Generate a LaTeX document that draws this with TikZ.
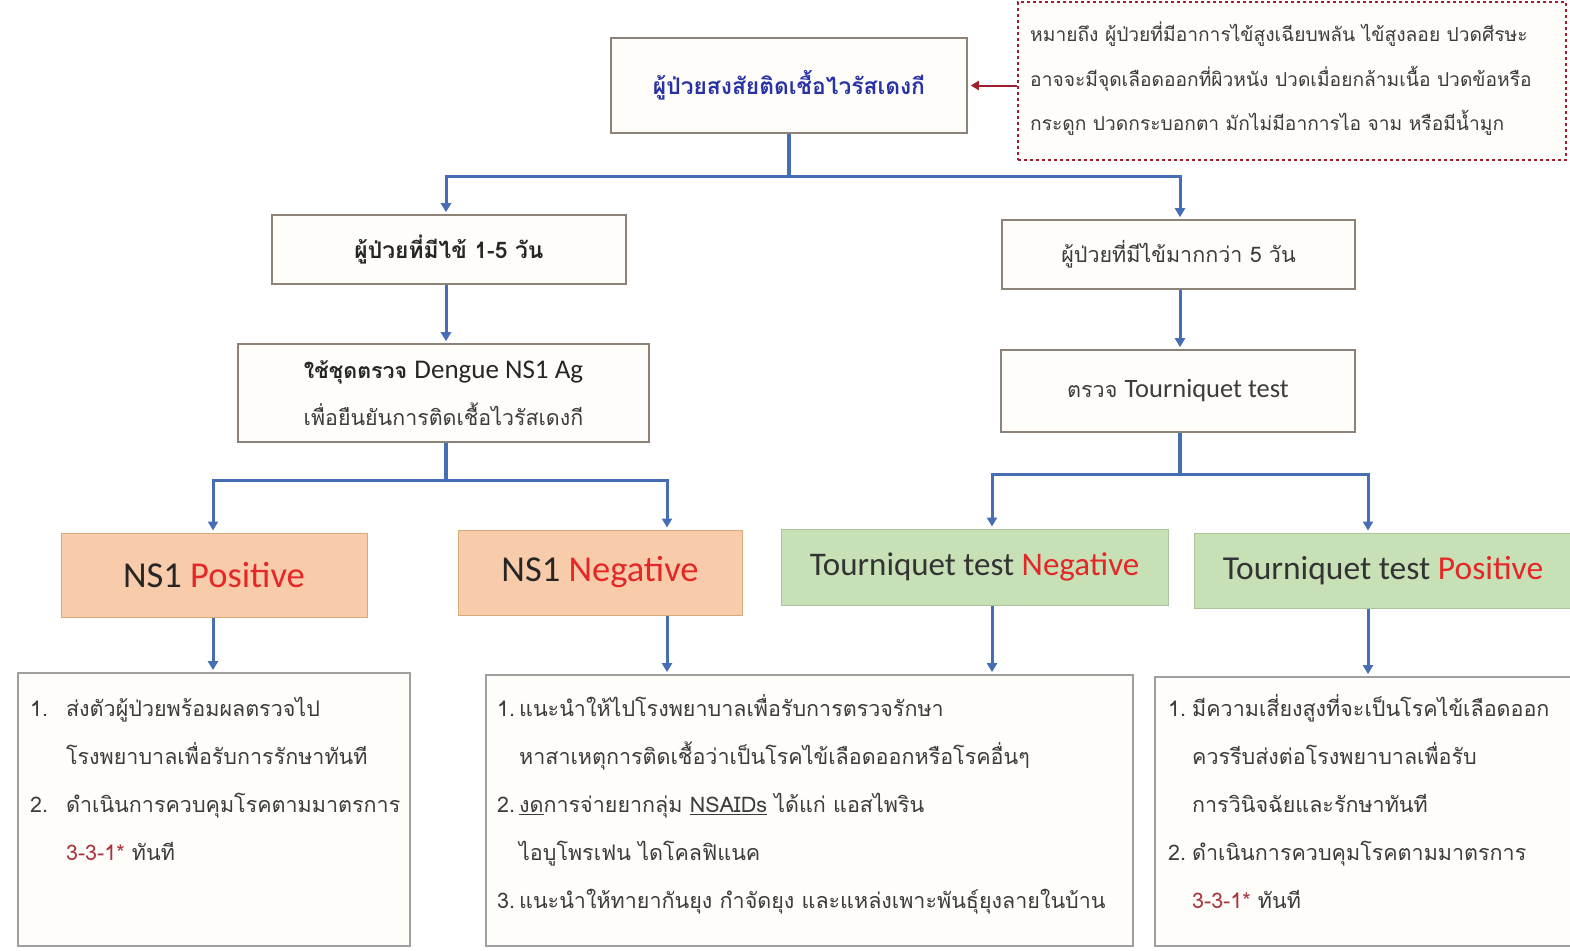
\documentclass[tikz,border=0pt]{standalone}
\usepackage{fontspec}
\setmainfont[Script=Thai]{Loma}
\newfontfamily\lat{Carlito}
\usetikzlibrary{arrows.meta}
\definecolor{conn}{RGB}{70,110,180}
\definecolor{boxline}{RGB}{140,130,120}
\definecolor{cream}{RGB}{255,253,249}
\definecolor{titleblue}{RGB}{40,50,165}
\definecolor{txtgray}{RGB}{60,60,60}
\definecolor{noteline}{RGB}{160,30,45}
\definecolor{peach}{RGB}{248,203,170}
\definecolor{peachline}{RGB}{215,170,120}
\definecolor{lgreen}{RGB}{200,224,182}
\definecolor{greenline}{RGB}{170,195,155}
\definecolor{posred}{RGB}{228,40,40}
\definecolor{darkred}{RGB}{170,50,60}
\tikzset{
  box/.style={draw=boxline, line width=1.6pt, fill=cream, inner sep=0pt, align=center, text=txtgray},
  resbox/.style={draw=peachline, line width=1pt, fill=peach, inner sep=0pt, align=center},
  tbox/.style={draw=greenline, line width=1pt, fill=lgreen, inner sep=0pt, align=center},
  outbox/.style={draw=gray!75, line width=1.8pt, fill=cream, inner sep=0pt},
  listtxt/.style={anchor=north west, inner sep=0pt, text=txtgray, align=left, font=\fontsize{21.5}{48}\selectfont},
  link/.style={draw=conn, line width=3.2pt},
  arr/.style={draw=conn, line width=3pt, -{Triangle[width=10pt,length=9pt]}, shorten >=2pt},
  redarr/.style={draw=noteline, line width=2pt, -{Triangle[width=9pt,length=8pt]}, shorten >=3pt}
}
\begin{document}
\begin{tikzpicture}[x=1pt,y=-1pt]
\useasboundingbox[fill=white] (0,0) rectangle (1570,950);

% top
\node[box, minimum width=356pt, minimum height=95pt, font=\fontsize{22.8}{26}\selectfont\bfseries, text=titleblue] (top) at (789,85.5) {ผู้ป่วยสงสัยติดเชื้อไวรัสเดงกี};
\node[draw=noteline, dashed, line width=1.4pt, fill=cream, minimum width=548pt, minimum height=158pt, inner sep=0pt] (note) at (1292,81) {};
\node[anchor=north west, inner sep=0pt, text=txtgray, align=left, font=\fontsize{19.2}{44.5}\selectfont] (notetxt) at (1030,22) {หมายถึง ผู้ป่วยที่มีอาการไข้สูงเฉียบพลัน ไข้สูงลอย ปวดศีรษะ\\อาจจะมีจุดเลือดออกที่ผิวหนัง ปวดเมื่อยกล้ามเนื้อ ปวดข้อหรือ\\กระดูก ปวดกระบอกตา มักไม่มีอาการไอ จาม หรือมีน้ำมูก};

% left branch
\node[box, minimum width=354pt, minimum height=69pt, font=\fontsize{22.8}{26}\selectfont\bfseries, text=black!85] (a1) at (449,249.5) {ผู้ป่วยที่มีไข้ 1-5 วัน};
\node[box, minimum width=411pt, minimum height=98pt, font=\fontsize{21.4}{47}\selectfont] (a2) at (443.5,393) {{\bfseries\color{black!85}ใช้ชุดตรวจ} {\lat\fontsize{27}{47}\selectfont\color{black!85}Dengue NS1 Ag}\\เพื่อยืนยันการติดเชื้อไวรัสเดงกี};

% right branch
\node[box, minimum width=353pt, minimum height=69pt, font=\fontsize{21.5}{26}\selectfont] (b1) at (1178.5,254.5) {ผู้ป่วยที่มีไข้มากกว่า 5 วัน};
\node[box, minimum width=354pt, minimum height=82pt, font=\fontsize{21.5}{26}\selectfont] (b2) at (1178,391) {ตรวจ {\lat\fontsize{26.5}{26}\selectfont Tourniquet test}};

% result boxes
\node[resbox, minimum width=306pt, minimum height=84pt, font=\lat\fontsize{36.5}{38}\selectfont] (p1) at (214,575) {{\color{black!85}NS1} {\color{posred}Positive}};
\node[resbox, minimum width=284pt, minimum height=85pt, font=\lat\fontsize{36.5}{38}\selectfont] (p2) at (600,572.5) {{\color{black!85}NS1} {\color{posred}Negative}};
\node[tbox, minimum width=387pt, minimum height=76pt, font=\lat\fontsize{33}{36}\selectfont] (g1) at (974.5,567) {{\color{black!80}Tourniquet test} {\color{posred}Negative}};
\node[tbox, minimum width=378pt, minimum height=75pt, font=\lat\fontsize{33.5}{36}\selectfont] (g2) at (1383,570.5) {{\color{black!80}Tourniquet test} {\color{posred}Positive}};

% outcome boxes
\node[outbox, minimum width=392pt, minimum height=273pt] (r1) at (214,809.5) {};
\node[outbox, minimum width=647pt, minimum height=271pt] (r2) at (809.5,810.5) {};
\node[outbox, minimum width=418pt, minimum height=269pt] (r3) at (1364,811.5) {};

\node[listtxt] (r1t) at (30,683) {\begin{tabular}{@{}l@{\hspace{18pt}}l@{}}1. & ส่งตัวผู้ป่วยพร้อมผลตรวจไป\\ & โรงพยาบาลเพื่อรับการรักษาทันที\\2. & ดำเนินการควบคุมโรคตามมาตรการ\\ & {\color{darkred}3-3-1*} ทันที\end{tabular}};
\node[listtxt] (r2t) at (497,683) {\begin{tabular}{@{}l@{\hspace{4pt}}l@{}}1. & แนะนำให้ไปโรงพยาบาลเพื่อรับการตรวจรักษา\\ & หาสาเหตุการติดเชื้อว่าเป็นโรคไข้เลือดออกหรือโรคอื่นๆ\\2. & \underline{งด}การจ่ายยากลุ่ม \underline{NSAIDs} ได้แก่ แอสไพริน\\ & ไอบูโพรเฟน ไดโคลฟิแนค\\3. & แนะนำให้ทายากันยุง กำจัดยุง และแหล่งเพาะพันธุ์ยุงลายในบ้าน\end{tabular}};
\node[listtxt] (r3t) at (1168,683) {\begin{tabular}{@{}l@{\hspace{6pt}}l@{}}1. & มีความเสี่ยงสูงที่จะเป็นโรคไข้เลือดออก\\ & ควรรีบส่งต่อโรงพยาบาลเพื่อรับ\\ & การวินิจฉัยและรักษาทันที\\2. & ดำเนินการควบคุมโรคตามมาตรการ\\ & {\color{darkred}3-3-1*} ทันที\end{tabular}};

% connectors
\draw[redarr] (note.west |- top.east) -- (top.east);

\path (top.south) ++(0,43) coordinate (j1);
\draw[link] (top.south) -- (j1);
\draw[arr] (j1) -| ([xshift=-3pt]a1.north);
\draw[arr] (j1) -| ([xshift=1.5pt]b1.north);

\draw[arr] ([xshift=-3pt]a1.south) -- ([xshift=-3pt]a1.south |- a2.north);
\draw[arr] ([xshift=1.5pt]b1.south) -- ([xshift=1.5pt]b1.south |- b2.north);

\path ([xshift=2.5pt]a2.south) ++(0,38) coordinate (j2);
\draw[link] ([xshift=2.5pt]a2.south) -- (j2);
\draw[arr] (j2) -| ([xshift=-1pt]p1.north);
\draw[arr] (j2) -| ([xshift=67pt]p2.north);

\path ([xshift=2pt]b2.south) ++(0,42) coordinate (j3);
\draw[link] ([xshift=2pt]b2.south) -- (j3);
\draw[arr] (j3) -| ([xshift=17.5pt]g1.north);
\draw[arr] (j3) -| ([xshift=-15pt]g2.north);

\draw[arr] ([xshift=-1pt]p1.south) -- ([xshift=-1pt]p1.south |- r1.north);
\draw[arr] ([xshift=67pt]p2.south) -- ([xshift=67pt]p2.south |- r2.north);
\draw[arr] ([xshift=17.5pt]g1.south) -- ([xshift=17.5pt]g1.south |- r2.north);
\draw[arr] ([xshift=-15pt]g2.south) -- ([xshift=-15pt]g2.south |- r3.north);
\end{tikzpicture}
\end{document}
